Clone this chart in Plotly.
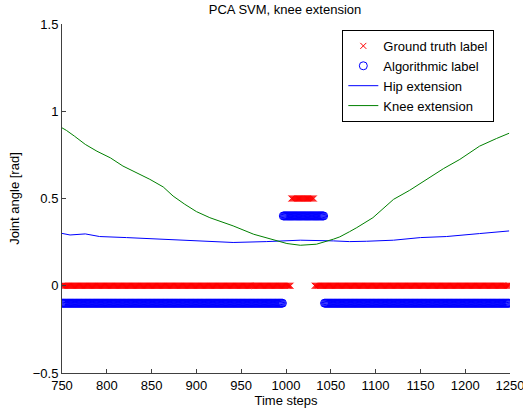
import numpy as np
import plotly.graph_objects as go

# Label segments (start step, end step, value)
gt_seg_start = [750, 1006, 1032]
gt_seg_end = [1005, 1031, 1249]
gt_seg_value = [0.0, 0.5, 0.0]

alg_seg_start = [750, 997, 1043]
alg_seg_end = [996, 1042, 1249]
alg_seg_value = [-0.1, 0.4, -0.1]

# Joint angle curves
knee_t = [750, 755, 764, 776, 789, 804, 818, 833, 848, 863, 874, 887, 900, 915, 941, 964,
          986, 1001, 1016, 1034, 1053, 1060, 1071, 1079, 1097, 1120, 1138, 1157, 1176, 1194,
          1216, 1235, 1249]
knee_v = [0.905, 0.89, 0.857, 0.81, 0.771, 0.733, 0.686, 0.647, 0.61, 0.566, 0.514, 0.467,
          0.425, 0.39, 0.343, 0.295, 0.261, 0.242, 0.232, 0.238, 0.267, 0.28, 0.31, 0.333,
          0.39, 0.495, 0.547, 0.61, 0.672, 0.724, 0.80, 0.844, 0.874]

hip_t = [750, 759, 776, 792, 822, 859, 896, 915, 941, 978, 1016, 1053, 1071, 1090, 1120,
         1150, 1179, 1216, 1235, 1249]
hip_v = [0.30, 0.291, 0.297, 0.282, 0.276, 0.267, 0.257, 0.253, 0.248, 0.253, 0.261, 0.257,
         0.253, 0.255, 0.261, 0.276, 0.282, 0.299, 0.31, 0.314]

x_ticks = [750, 800, 850, 900, 950, 1000, 1050, 1100, 1150, 1200, 1250]
y_ticks = [-0.5, 0, 0.5, 1, 1.5]


def expand(starts, ends, values):
    xs, ys = [], []
    for s, e, v in zip(starts, ends, values):
        for t in range(s, e + 1):
            xs.append(t)
            ys.append(v)
    return xs, ys


gt_x, gt_y = expand(gt_seg_start, gt_seg_end, gt_seg_value)
alg_x, alg_y = expand(alg_seg_start, alg_seg_end, alg_seg_value)

FONT = "Liberation Sans, Arial, Helvetica, sans-serif"
FS = 13

fig = go.Figure()
fig.add_trace(go.Scatter(x=gt_x, y=gt_y, mode="markers", name="Ground truth label",
                         marker=dict(symbol="x-thin", size=6, color="red",
                                     line=dict(color="red", width=1))))
fig.add_trace(go.Scatter(x=alg_x, y=alg_y, mode="markers", name="Algorithmic label",
                         marker=dict(symbol="circle-open", size=8, color="blue",
                                     line=dict(color="blue", width=1))))
fig.add_trace(go.Scatter(x=hip_t, y=hip_v, mode="lines", name="Hip extension",
                         line=dict(color="blue", width=1)))
fig.add_trace(go.Scatter(x=knee_t, y=knee_v, mode="lines", name="Knee extension",
                         line=dict(color="green", width=1)))

axis_common = dict(showgrid=False, zeroline=False, showline=True, linecolor="#404040",
                   linewidth=1, ticks="inside", ticklen=4, tickcolor="#404040",
                   tickfont=dict(family=FONT, size=FS, color="black"), mirror=False,
                   ticklabeloverflow="allow", automargin=False)

fig.update_layout(
    width=523, height=413,
    margin=dict(l=62, r=13, t=24, b=40, autoexpand=False),
    paper_bgcolor="white", plot_bgcolor="white",
    font=dict(family=FONT, size=FS, color="black"),
    title=dict(text="PCA SVM, knee extension", x=0.545, xanchor="center",
               y=0.978, yanchor="middle", font=dict(family=FONT, size=FS, color="black")),
    xaxis=dict(range=[749.999, 1250.001], tickvals=x_ticks,
               title=dict(text="Time steps", standoff=1, font=dict(family=FONT, size=FS)),
               **axis_common),
    yaxis=dict(range=[-0.5001, 1.5001], tickvals=y_ticks,
               title=dict(text="Joint angle [rad]", standoff=10, font=dict(family=FONT, size=FS)),
               **axis_common),
    legend=dict(x=0.965, xanchor="right", y=0.983, yanchor="top",
                bgcolor="white", bordercolor="black", borderwidth=1,
                font=dict(family=FONT, size=FS), tracegroupgap=0,
                itemwidth=30),
    showlegend=True,
)

fig.write_html("out.html")
